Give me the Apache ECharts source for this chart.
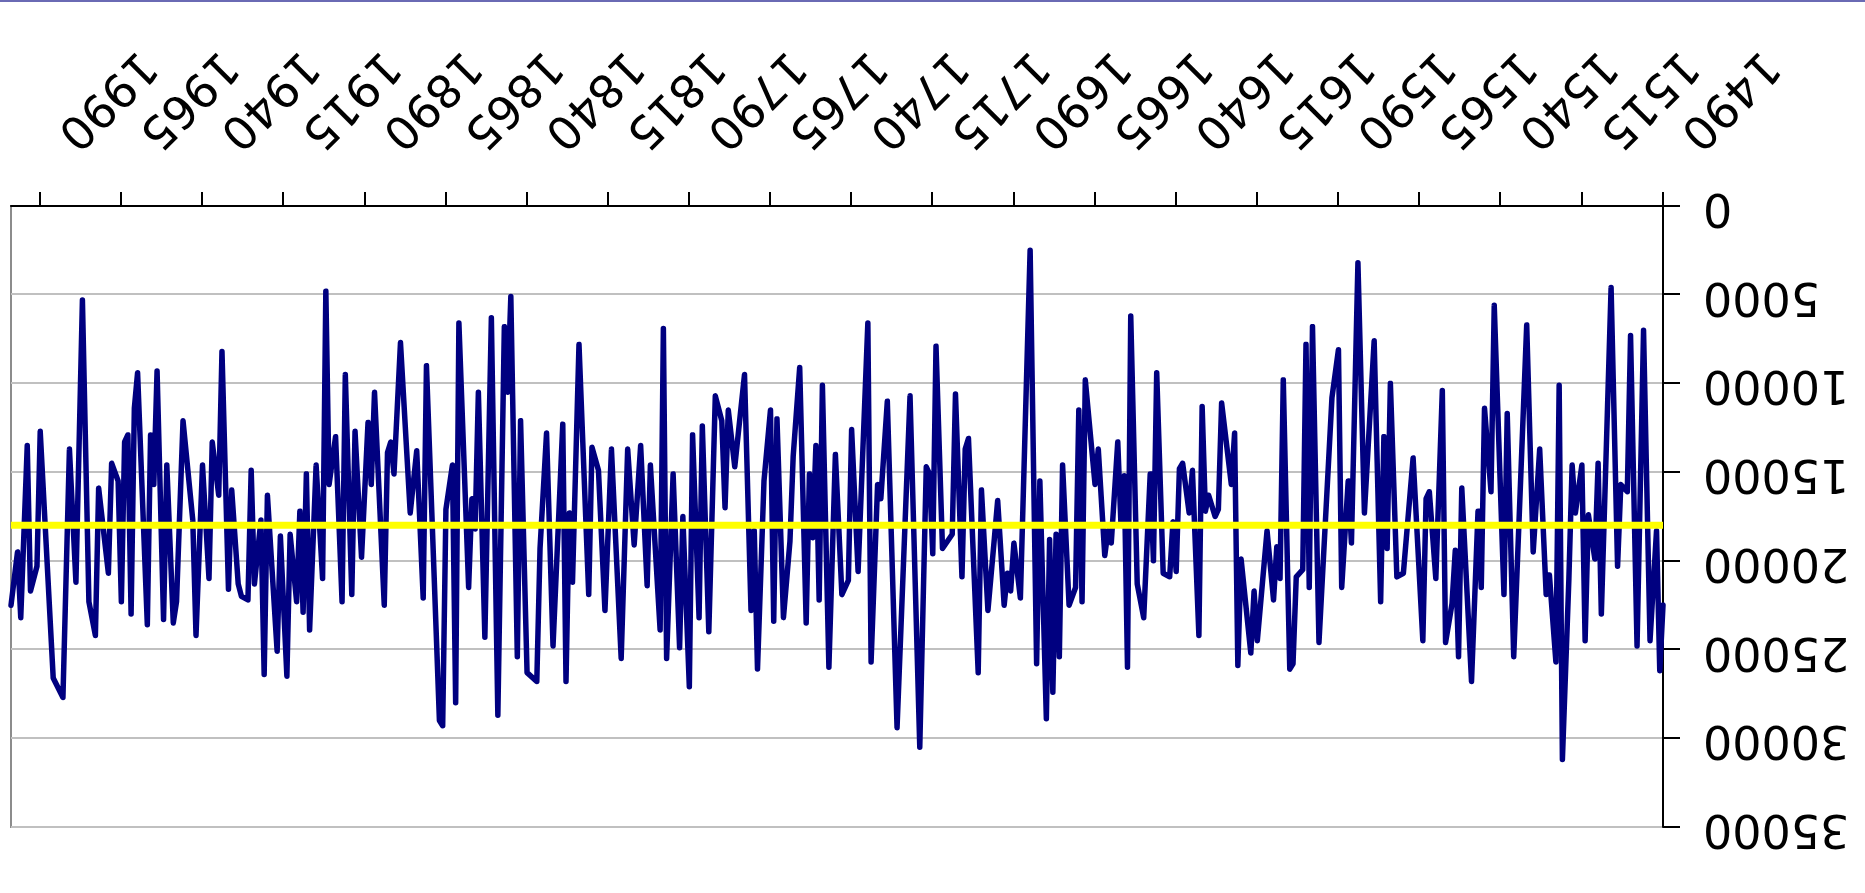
<!DOCTYPE html>
<html>
<head>
<meta charset="utf-8">
<title>chart</title>
<script src="https://cdn.jsdelivr.net/npm/echarts@6/dist/echarts.min.js"></script>
<style>
  html, body { margin: 0; padding: 0; background: #fff; overflow: hidden; }
  #topline { position: absolute; left: 0; top: 0; width: 1865px; height: 2px; background: #6a6ab4; z-index: 2; }
  #flip { position: absolute; left: 0; top: 0; width: 1865px; height: 893px; transform: rotate(180deg); }
  #main { width: 1865px; height: 893px; }
</style>
</head>
<body>
<div id="topline"></div>
<div id="flip"><div id="main"></div></div>
<script>
// years where the line turns
var YEARS = [
  1490,1491,1492,1494,1496,1498,1500,1501,1503,1504,1506,1509,1510,1511,1513,1514,1515,1517,1518,1519,
  1521,1522,1523,1525,1526,1528,1530,1532,1536,1538,1539,1542,1543,1545,1546,1547,1549,1552,1553,1554,
  1555,1557,1558,1560,1562,1563,1564,1567,1570,1572,1574,1575,1576,1577,1579,1582,1584,1586,1587,1589,
  1590,1592,1596,1598,1599,1600,1601,1603,1604,1605,1607,1608,1609,1610,1612,1615,1616,1617,1620,1621,
  1622,1623,1626,1627,1628,1630,1631,1632,1633,1635,1636,1638,1639,1640,1641,1642,1644,1646,1647,1648,
  1650,1652,1654,1655,1656,1657,1658,1660,1661,1662,1664,1665,1668,1669,1670,1671,1673,1675,1676,1677,
  1678,1679,1680,1682,1683,1685,1688,1690,1691,1692,1693,1695,1696,1698,1700,1701,1704,1705,1706,1708,
  1709,1712,1714,1715,1716,1717,1719,1722,1726,1729,1731,1732,1734,1735,1738,1740,1741,1743,1745,1747,
  1749,1750,1751,1752,1753,1754,1756,1758,1759,1761,1763,1764,1765,1767,1769,1770,1771,1773,1776,1778,
  1779,1780,1782,1784,1786,1787,1789,1790,1792,1793,1795,1797,1798,1799,1802,1803,1805,1807,1809,1811,
  1814,1816,1818,1820,1821,1824,1826,1827,1828,1829,1832,1834,1836,1837,1840,1842,1843,1845,1846,1847,
  1849,1851,1853,1855,1856,1857,1858,1861,1862,1863,1865,1866,1867,1871,1872,1874,1876,1879,1881,1882,
  1883,1884,1887,1888,1889,1891,1893,1894,1896,1897,1899,1901,1902,1903,1905,1907,1908,1909,1910,1911,
  1913,1914,1916,1917,1920,1921,1922,1924,1925,1926,1928,1929,1931,1932,1934,1935,1937,1938,1940,1942,
  1943,1946,1948,1949,1951,1952,1954,1955,1956,1957,1960,1961,1962,1963,1964,1965,1966,1968,1969,1972,
  1973,1975,1977,1979,1981,1983,1986,1990,1991,1993,1994,1996,1997,1999
];
var VALUES = [
  22500,26200,18300,24500,7000,24800,7300,16100,15700,20300,4600,23000,14500,19900,17400,24500,14600,17300,14600,21000,
  31200,10100,25700,20800,21900,13700,19500,6700,25400,11700,21900,5600,16100,11400,21500,17200,26800,15900,25400,19400,
  22400,24600,10400,21000,16100,16500,24500,14200,20700,20900,10000,19300,13000,22300,7600,17300,3200,19000,15500,21500,
  8100,10800,24600,6800,21500,7800,20500,20900,25800,26100,9800,21000,19200,22200,18300,24500,21700,25200,19900,25900,
  12800,15700,11100,17100,17500,16300,17200,11300,24200,14900,17300,14500,14800,20600,17800,20900,20700,9400,20000,15100,
  23200,21300,6200,26000,15200,18000,13300,19000,18300,19700,13700,15700,9800,22300,11500,21500,22500,14600,25400,18500,
  27400,18800,28900,15500,25800,2500,22100,19000,21700,20700,22500,16600,18700,22800,16000,26300,13100,13700,20900,10600,
  18500,19300,7900,19600,15100,14700,30500,10700,29400,11000,16500,15700,25700,6600,20600,12600,21100,21900,14000,26000,
  10100,22200,13500,18700,15100,23500,9100,14100,18900,23200,12000,23400,11500,15500,26100,18300,22800,9500,14700,11500,
  17000,12100,10700,24000,12400,23200,12900,27100,17500,24900,15100,25500,6900,23900,14600,21400,13500,19100,13700,25500,
  13700,22800,14900,13600,21900,7800,21200,17300,26800,12300,24800,12800,19300,26800,26300,12100,25400,5100,10500,6800,
  28700,6300,24300,10500,18200,16500,21500,6600,28000,14600,17100,29300,29000,9000,22100,13800,17300,7700,15100,13300,
  13900,22500,10500,15700,12200,19800,12700,21900,9500,22300,13000,15700,4800,21000,14600,23900,15100,22900,17200,22300,
  18500,26500,18600,25100,16300,26400,17700,21300,14900,22200,22000,21300,16000,21600,8200,16300,13300,21000,14600,24200,
  17700,12100,22300,23500,14600,23300,9300,15700,12900,23600,9400,11400,23000,12900,13300,22300,15500,14500,20700,15900,
  24200,22300,5300,21200,13700,27700,26600,12700,20300,21700,13500,23200,19500,22500
];
// yellow reference level
var MEAN = 18000;
var MEAN_LINE = [[1490, MEAN], [1999, MEAN]];
var TICK_YEARS = [1490,1515,1540,1565,1590,1615,1640,1665,1690,1715,1740,1765,1790,1815,1840,1865,1890,1915,1940,1965,1990];

var chart = echarts.init(document.getElementById('main'));
var font = 'DejaVu Sans';
var plain = function (v) { return String(v); };
chart.setOption({
  animation: false,
  backgroundColor: '#fff',
  grid: {
    left: 202, right: 11, top: 66, bottom: 206,
    show: true, borderColor: '#8c8c8c', borderWidth: 2
  },
  xAxis: {
    type: 'value',
    min: 1490,
    max: 1999,
    axisLine: { show: true, onZero: false, lineStyle: { color: '#000', width: 2 } },
    axisTick: { show: true, length: 14, customValues: TICK_YEARS, lineStyle: { color: '#000', width: 2 } },
    axisLabel: {
      customValues: TICK_YEARS, rotate: 45, margin: 42, formatter: plain,
      padding: [0, 34, 0, 0],
      fontSize: 46, fontFamily: font, color: '#000'
    },
    splitLine: { show: false }
  },
  yAxis: {
    type: 'value',
    min: 0,
    max: 35000,
    interval: 5000,
    axisLine: { show: true, lineStyle: { color: '#000', width: 2 } },
    axisTick: { show: true, length: 17, lineStyle: { color: '#000', width: 2 } },
    axisLabel: {
      margin: 40, padding: [12, 0, 0, 0],
      fontSize: 46, fontFamily: font, color: '#000', formatter: plain
    },
    splitLine: { show: true, lineStyle: { color: '#c0c0c0', width: 2 } }
  },
  series: [
    {
      type: 'line',
      data: YEARS.map(function (y, i) { return [y, VALUES[i]]; }),
      showSymbol: false,
      lineStyle: { color: '#000080', width: 5.5, join: 'round', cap: 'round' },
      z: 2
    },
    {
      type: 'line',
      data: MEAN_LINE,
      showSymbol: false,
      silent: true,
      lineStyle: { color: '#ffff00', width: 7 },
      z: 3
    }
  ]
});
</script>
</body>
</html>
